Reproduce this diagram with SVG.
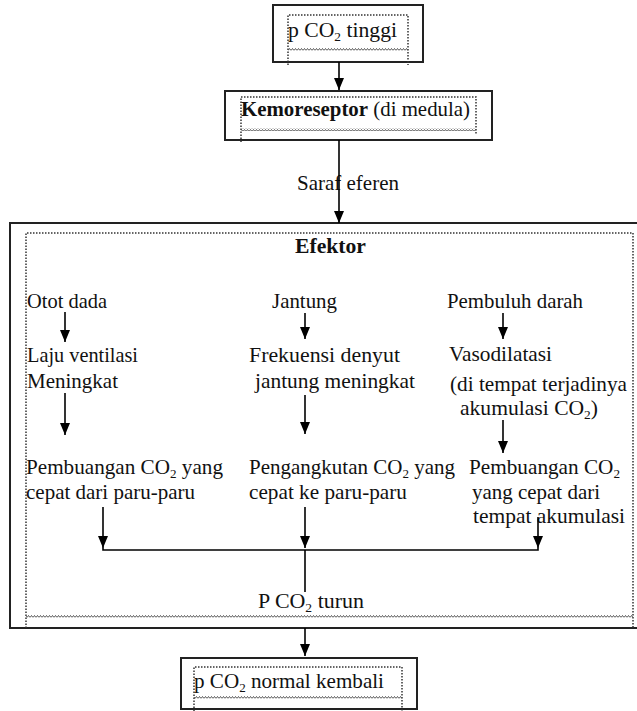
<svg xmlns="http://www.w3.org/2000/svg" width="637" height="711" viewBox="0 0 637 711">
<defs>
<marker id="ah" markerUnits="userSpaceOnUse" markerWidth="12" markerHeight="10" refX="12" refY="5" orient="auto" viewBox="0 0 12 10">
<path d="M0,0 L12,5 L0,10 z" fill="#000"/>
</marker>
<pattern id="wave" patternUnits="userSpaceOnUse" width="3" height="3">
<path d="M0,2.5 L1.5,0.5 L3,2.5" fill="none" stroke="#444" stroke-width="0.9"/>
</pattern>
<style>
text{font-family:'Liberation Serif','Times New Roman',serif;font-size:21px;fill:#111;}
.b{font-weight:bold;}
.sub{font-size:13px;}
.box{fill:#fff;stroke:#222;stroke-width:2;}
.dot{fill:none;stroke:#333;stroke-width:1.5;stroke-dasharray:1.5 1.5;}
.con{fill:none;stroke:#000;stroke-width:1.6;}
.arr{fill:none;stroke:#000;stroke-width:1.6;marker-end:url(#ah);}
</style>
</defs>
<rect width="637" height="711" fill="#fff"/>
<g font-family="Liberation Serif, serif">

<g id="efektor">
<rect class="box" x="10" y="223" width="640" height="405"/>
<path class="dot" d="M26,628 V233 H633 V628"/>
<rect x="26" y="615" width="607" height="3" fill="url(#wave)"/>
<text class="b" x="295" y="253" textLength="71" lengthAdjust="spacingAndGlyphs">Efektor</text>
</g>

<g id="pco2-tinggi">
<rect class="box" x="273" y="5" width="150" height="57"/>
<path class="dot" d="M288,65 V15 H408 V65"/>
<rect x="288" y="48" width="120" height="3" fill="url(#wave)"/>
<text x="288" y="37" textLength="109" lengthAdjust="spacingAndGlyphs">p CO<tspan class="sub" dy="4">2</tspan><tspan dy="-4">  tinggi</tspan></text>
</g>

<g id="kemoreseptor">
<rect class="box" x="225" y="91" width="267" height="49"/>
<path class="dot" d="M241,142 V97 H476 V135"/>
<rect x="241" y="128" width="235" height="3" fill="url(#wave)"/>
<text x="241" y="116" textLength="229" lengthAdjust="spacingAndGlyphs"><tspan class="b">Kemoreseptor</tspan> (di medula)</text>
</g>

<g id="saraf-eferen">
<text x="297" y="190" textLength="102" lengthAdjust="spacingAndGlyphs">Saraf eferen</text>
</g>

<g id="otot-dada"><text x="27" y="308" textLength="80" lengthAdjust="spacingAndGlyphs">Otot dada</text></g>
<g id="jantung"><text x="272" y="308" textLength="65" lengthAdjust="spacingAndGlyphs">Jantung</text></g>
<g id="pembuluh-darah"><text x="447" y="308" textLength="136" lengthAdjust="spacingAndGlyphs">Pembuluh darah</text></g>

<g id="laju-ventilasi">
<text x="27" y="362" textLength="111" lengthAdjust="spacingAndGlyphs">Laju ventilasi</text>
<text x="27" y="388" textLength="91" lengthAdjust="spacingAndGlyphs">Meningkat</text>
</g>
<g id="frekuensi">
<text x="249" y="362" textLength="151" lengthAdjust="spacingAndGlyphs">Frekuensi denyut</text>
<text x="255" y="388" textLength="160" lengthAdjust="spacingAndGlyphs">jantung meningkat</text>
</g>
<g id="vasodilatasi">
<text x="449" y="361" textLength="103" lengthAdjust="spacingAndGlyphs">Vasodilatasi</text>
<text x="450" y="391" textLength="177" lengthAdjust="spacingAndGlyphs">(di tempat terjadinya</text>
<text x="460" y="415" textLength="138" lengthAdjust="spacingAndGlyphs">akumulasi CO<tspan class="sub" dy="4">2</tspan><tspan dy="-4">)</tspan></text>
</g>

<g id="pembuangan-paru">
<text x="26" y="474" textLength="197" lengthAdjust="spacingAndGlyphs">Pembuangan CO<tspan class="sub" dy="4">2</tspan><tspan dy="-4"> yang</tspan></text>
<text x="26" y="499" textLength="169" lengthAdjust="spacingAndGlyphs">cepat dari paru-paru</text>
</g>
<g id="pengangkutan">
<text x="249" y="474" textLength="206" lengthAdjust="spacingAndGlyphs">Pengangkutan CO<tspan class="sub" dy="4">2</tspan><tspan dy="-4"> yang</tspan></text>
<text x="249" y="499" textLength="158" lengthAdjust="spacingAndGlyphs">cepat ke paru-paru</text>
</g>
<g id="pembuangan-akumulasi">
<text x="469" y="474" textLength="151" lengthAdjust="spacingAndGlyphs">Pembuangan CO<tspan class="sub" dy="4">2</tspan></text>
<text x="472" y="499" textLength="128" lengthAdjust="spacingAndGlyphs">yang cepat dari</text>
<text x="473" y="523" textLength="152" lengthAdjust="spacingAndGlyphs">tempat akumulasi</text>
</g>

<g id="pco2-turun">
<text x="258" y="608" textLength="106" lengthAdjust="spacingAndGlyphs">P CO<tspan class="sub" dy="4">2</tspan><tspan dy="-4"> turun</tspan></text>
</g>

<g id="pco2-normal">
<rect class="box" x="181" y="658" width="236" height="51"/>
<path class="dot" d="M194,711 V667 H402 V711"/>
<rect x="194" y="696" width="208" height="3" fill="url(#wave)"/>
<text x="194" y="688" textLength="190" lengthAdjust="spacingAndGlyphs">p CO<tspan class="sub" dy="4">2</tspan><tspan dy="-4">  normal kembali</tspan></text>
</g>

</g>

<g id="connectors">
<line class="arr" x1="339" y1="62" x2="339" y2="90"/>
<line class="arr" x1="339" y1="140" x2="339" y2="223"/>
<line class="arr" x1="65" y1="312" x2="65" y2="342"/>
<line class="arr" x1="305" y1="313" x2="305" y2="339"/>
<line class="arr" x1="503" y1="313" x2="503" y2="339"/>
<line class="arr" x1="65" y1="393" x2="65" y2="435"/>
<line class="arr" x1="305" y1="395" x2="305" y2="434"/>
<line class="arr" x1="503" y1="420" x2="503" y2="453"/>
<line class="arr" x1="103" y1="507" x2="103" y2="548"/>
<line class="arr" x1="305" y1="507" x2="305" y2="548"/>
<line class="arr" x1="538" y1="517" x2="538" y2="548"/>
<path class="con" d="M103,548 V550 H538 V548"/>
<line class="con" x1="305" y1="550" x2="305" y2="592"/>
<line class="arr" x1="305" y1="628" x2="305" y2="656"/>
</g>
</svg>
